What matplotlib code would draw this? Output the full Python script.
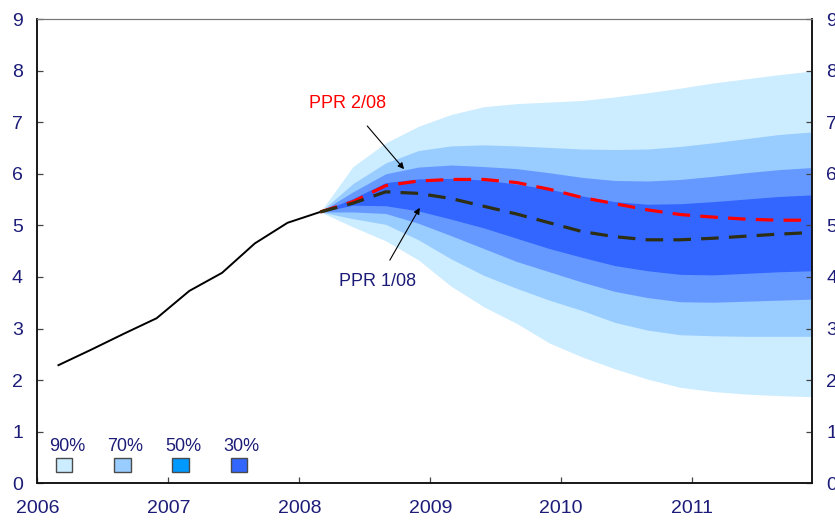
import matplotlib
matplotlib.use("Agg")
import matplotlib.pyplot as plt
from matplotlib.patches import Rectangle
import numpy as np

plt.rcParams["font.family"] = ["Liberation Sans", "DejaVu Sans"]

# quarterly positions, 2006Q1 - 2011Q4
quarters = 2006.16 + 0.25 * np.arange(24)

# key policy rate, 2006Q1 - 2008Q1
history = [2.29, 2.59, 2.90, 3.20, 3.73, 4.08, 4.65, 5.05, 5.26]

# projections from 2008Q1 to 2011Q4
ppr_1_08 = [5.26, 5.43, 5.65, 5.62, 5.52, 5.37, 5.22, 5.05,
            4.88, 4.78, 4.72, 4.72, 4.75, 4.79, 4.83, 4.86]
ppr_2_08 = [5.26, 5.46, 5.77, 5.86, 5.89, 5.89, 5.83, 5.70,
            5.54, 5.42, 5.30, 5.21, 5.16, 5.12, 5.10, 5.10]

# fan bands around PPR 1/08 (lower, upper)
hi90 = [5.26, 6.14, 6.60, 6.92, 7.15, 7.30, 7.36, 7.39,
        7.42, 7.49, 7.57, 7.66, 7.76, 7.84, 7.92, 7.99]
lo90 = [5.26, 4.97, 4.70, 4.33, 3.82, 3.42, 3.10, 2.72,
        2.45, 2.22, 2.02, 1.86, 1.78, 1.73, 1.70, 1.68]
hi70 = [5.26, 5.81, 6.21, 6.45, 6.54, 6.56, 6.54, 6.51,
        6.48, 6.47, 6.48, 6.53, 6.60, 6.68, 6.76, 6.81]
lo70 = [5.26, 5.13, 5.02, 4.72, 4.35, 4.03, 3.78, 3.55,
        3.35, 3.12, 2.97, 2.88, 2.86, 2.85, 2.85, 2.85]
hi50 = [5.26, 5.65, 6.00, 6.13, 6.17, 6.14, 6.10, 6.02,
        5.93, 5.87, 5.86, 5.89, 5.95, 6.02, 6.08, 6.12]
lo50 = [5.26, 5.26, 5.23, 5.04, 4.80, 4.55, 4.30, 4.10,
        3.90, 3.72, 3.60, 3.52, 3.51, 3.53, 3.55, 3.57]
hi30 = [5.26, 5.52, 5.83, 5.90, 5.91, 5.88, 5.80, 5.70,
        5.57, 5.46, 5.41, 5.42, 5.46, 5.51, 5.56, 5.59]
lo30 = [5.26, 5.39, 5.38, 5.28, 5.12, 4.95, 4.75, 4.55,
        4.38, 4.22, 4.12, 4.05, 4.04, 4.07, 4.10, 4.12]

band_labels = ["90%", "70%", "50%", "30%"]
band_colors = ["#CCECFF", "#99CCFF", "#6699FF", "#3366FF"]
key_colors = ["#CCECFF", "#99CCFF", "#0099FF", "#3366FF"]

years = [2006, 2007, 2008, 2009, 2010, 2011]
yticks = list(range(10))

navy = "#1C1C78"

fig = plt.figure(figsize=(8.35, 5.25), dpi=100)
ax = fig.add_axes([0.0449, 0.0794, 0.9272, 0.8844])

xf = quarters[8:]
bands = [(lo90, hi90), (lo70, hi70), (lo50, hi50), (lo30, hi30)]
for (lo, hi), c in zip(bands, band_colors):
    ax.fill_between(xf, lo, hi, color=c, lw=0)

ax.plot(quarters[:9], history, color="black", lw=1.4, zorder=3)
ax.plot(xf, ppr_2_08, color="#FF0000", lw=2.3, dashes=(5.5, 3.2), zorder=4)
ax.plot(xf, ppr_1_08, color="#2E2E12", lw=2.3, dashes=(5.5, 3.2), zorder=4)

# annotations
ax.annotate("PPR 2/08", xy=(2008.80, 6.09), xytext=(2008.37, 7.37),
            ha="center", va="center", fontsize=13, color="#FF0000",
            arrowprops=dict(arrowstyle="-|>", color="black", lw=0.8,
                            mutation_scale=9, shrinkA=11, shrinkB=0))
ax.annotate("PPR 1/08", xy=(2008.92, 5.34), xytext=(2008.60, 3.92),
            ha="center", va="center", fontsize=13, color=navy,
            arrowprops=dict(arrowstyle="-|>", color="black", lw=0.8,
                            mutation_scale=9, shrinkA=8, shrinkB=0))

# key for the bands
for i, (lab, c) in enumerate(zip(band_labels, key_colors)):
    x0 = 2006.139 + i * 0.4456
    ax.add_patch(Rectangle((x0, 0.225), 0.1275, 0.258, facecolor=c,
                           edgecolor="#4A4A4A", lw=1.0, zorder=5))
    ax.text(x0 + 0.085, 0.72, lab, ha="center", va="center",
            fontsize=13, color=navy)

ax.set_xlim(2006, 2011.914)
ax.set_ylim(0, 9)
ax.set_xticks(years)
ax.set_xticklabels([str(y) for y in years])
ax.set_yticks(yticks)

ax2 = ax.twinx()
ax2.set_ylim(0, 9)
ax2.set_yticks(yticks)

for a in (ax, ax2):
    a.tick_params(direction="in", length=4.5, width=0.9, color="#444444",
                  labelsize=14, labelcolor=navy, pad=10.5)
ax.tick_params(axis="x", pad=12)

for a in (ax, ax2):
    a.spines["top"].set_color("#777777")
    a.spines["top"].set_linewidth(0.8)
    for s in ("left", "right", "bottom"):
        a.spines[s].set_color("#111111")
        a.spines[s].set_linewidth(1.1)

fig.savefig("out.png", dpi=100)
